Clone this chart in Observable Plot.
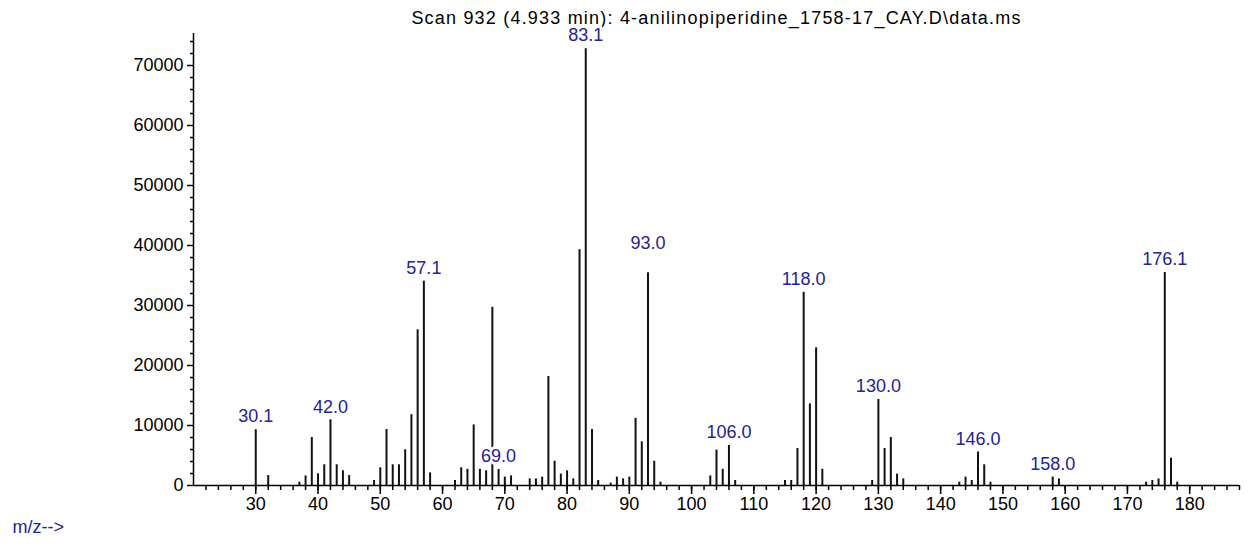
<!DOCTYPE html>
<html>
<head>
<meta charset="utf-8">
<script src="https://cdn.jsdelivr.net/npm/d3@7"></script>
<script src="https://cdn.jsdelivr.net/npm/@observablehq/plot@0.6"></script>
<style>
  html, body { margin: 0; padding: 0; background: #fff; }
  #chart { width: 1248px; height: 546px; }
</style>
</head>
<body>
<div id="chart"></div>
<script>
const titleText = "Scan 932 (4.933 min): 4-anilinopiperidine_1758-17_CAY.D\\data.ms";
const xAxisText = "m/z-->";

const mz = [30, 32, 37, 38, 39, 40, 41, 42, 43, 44, 45, 49, 50, 51, 52, 53, 54, 55, 56, 57, 58,
  62, 63, 64, 65, 66, 67, 68, 69, 70, 71, 74, 75, 76, 77, 78, 79, 80, 81, 82, 83, 84, 85, 87,
  88, 89, 90, 91, 92, 93, 94, 95, 103, 104, 105, 106, 107, 115, 116, 117, 118, 119, 120, 121,
  129, 130, 131, 132, 133, 134, 143, 144, 145, 146, 147, 148, 158, 159, 173, 174, 175, 176, 177, 178];
const intensity = [9300, 1650, 550, 1600, 8000, 1950, 3450, 10950, 3450, 2450, 1650, 830, 2950, 9330, 3450, 3450, 5950, 11800, 25950, 34050, 2100,
  830, 2950, 2700, 10100, 2700, 2450, 29700, 2670, 1400, 1600, 1100, 1100, 1400, 18170, 4050, 1900, 2450, 1100, 39300, 72800, 9330, 830, 400,
  1400, 1100, 1400, 11200, 7280, 35450, 4050, 550, 1600, 5900, 2700, 6670, 830, 830, 830, 6170, 32200, 13600, 22950, 2700,
  830, 14330, 6170, 8000, 1900, 1100, 550, 1400, 830, 5600, 3450, 550, 1400, 1100, 550, 830, 1100, 35500, 4550, 550];

const labelMz = [30, 42, 57, 69, 83, 93, 106, 118, 130, 146, 158, 176];
const labelText = ["30.1", "42.0", "57.1", "69.0", "83.1", "93.0", "106.0", "118.0", "130.0", "146.0", "158.0", "176.1"];

const majorX = d3.range(30, 181, 10);
const minorX = d3.range(22, 189, 2);
const majorY = d3.range(0, 70001, 10000);
const minorY = d3.range(0, 75001, 2000);

const peaks = mz.map((m, i) => ({mz: m, intensity: intensity[i]}));
const lookup = new Map(peaks.map(d => [d.mz, d.intensity]));
const labels = labelMz.map((m, i) => ({mz: m, text: labelText[i], intensity: lookup.get(m)}));

const blue = "#22229a";
const labelOpts = {
  x: "mz", y: "intensity", text: "text", fill: blue, stroke: "white", strokeWidth: 6,
  paintOrder: "stroke", fontSize: 18, lineAnchor: "middle"
};

const plot = Plot.plot({
  width: 1248,
  height: 546,
  marginLeft: 193,
  marginRight: 9,
  marginTop: 33,
  marginBottom: 61,
  style: {fontFamily: "'Liberation Sans', Arial, sans-serif", fontSize: "18px", background: "white", color: "#000"},
  x: {domain: [20, 188]},
  y: {domain: [0, 75333]},
  marks: [
    Plot.text([titleText], {frameAnchor: "top", dy: -15, fontSize: 18, lineAnchor: "middle", fill: "#000"}),
    Plot.text([xAxisText], {frameAnchor: "bottom-left", dx: -181, dy: 42, textAnchor: "start", fontSize: 18, fill: blue, lineAnchor: "middle"}),
    Plot.ruleX(peaks, {x: "mz", y: "intensity", stroke: "#111", strokeWidth: 2}),
    Plot.axisX({ticks: majorX, tickSize: 9, tickPadding: 3, tickFormat: "d", label: null, fontSize: 18, strokeWidth: 1.5}),
    Plot.axisX({ticks: minorX, tickSize: 5, tickFormat: () => "", label: null, strokeWidth: 1.5}),
    Plot.axisY({ticks: majorY, tickSize: 6, tickPadding: 4, tickFormat: "d", label: null, fontSize: 18, strokeWidth: 1.5}),
    Plot.axisY({ticks: minorY.filter(v => v % 10000 !== 0), tickSize: 3, tickFormat: () => "", label: null, strokeWidth: 1.5}),
    Plot.ruleY([0], {stroke: "#000", strokeWidth: 1.5}),
    Plot.ruleX([20], {stroke: "#000", strokeWidth: 1.5}),
    Plot.text(labels.filter(d => d.mz !== 93), {...labelOpts, dy: -13}),
    Plot.text(labels.filter(d => d.mz === 93), {...labelOpts, dy: -30})
  ]
});

document.getElementById("chart").appendChild(plot);
d3.select(plot).selectAll("text").filter(function() { return this.textContent === titleText; })
  .attr("letter-spacing", "1.2px");
</script>
</body>
</html>
